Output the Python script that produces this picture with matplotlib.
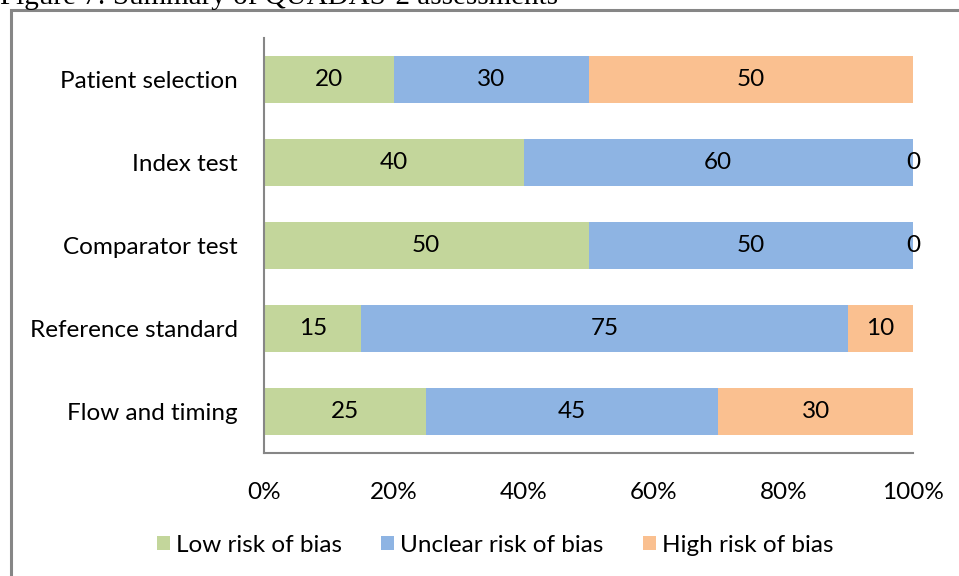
import numpy as np
import matplotlib
matplotlib.use('Agg')
import matplotlib.pyplot as plt
from matplotlib.patches import Rectangle

# QUADAS-2 요약 데이터
domains = ['Patient selection', 'Index test', 'Comparator test', 'Reference standard', 'Flow and timing']
low = [20, 40, 50, 15, 25]
unclear = [30, 60, 50, 75, 45]
high = [50, 0, 0, 10, 30]
series_names = ['Low risk of bias', 'Unclear risk of bias', 'High risk of bias']
colors = ['#C3D69B', '#8EB4E3', '#FAC090']
xticks = [0, 20, 40, 60, 80, 100]

plt.rcParams['font.family'] = ['Lato', 'DejaVu Sans']
fs = 17.5

fig = plt.figure(figsize=(9.59, 5.76), dpi=100)
ax = fig.add_axes([264/959, 1-453/576, (913-264)/959, (453-38)/576])

y = np.arange(len(domains))
left = np.zeros(len(domains))
for vals, name, c in zip([low, unclear, high], series_names, colors):
    vals = np.array(vals, dtype=float)
    bars = ax.barh(y, vals, left=left, height=0.565, color=c, label=name)
    for yi, l, v in zip(y, left, vals):
        ax.text(l + v/2, yi, str(int(v)), ha='center', va='center', fontsize=fs, color='black')
    left = left + vals

ax.set_ylim(len(domains)-0.5, -0.5)
ax.set_xlim(0, 100)
ax.set_yticks(y)
ax.set_yticklabels(domains, fontsize=fs)
ax.set_xticks(xticks)
ax.set_xticklabels([f'{t}%' for t in xticks], fontsize=fs)
ax.tick_params(length=0)
ax.tick_params(axis='y', pad=19)
ax.tick_params(axis='x', pad=21)
for s in ['top', 'right']:
    ax.spines[s].set_visible(False)
for s in ['left', 'bottom']:
    ax.spines[s].set_color('#868686')
    ax.spines[s].set_linewidth(1.5)

# 범례
fig.legend(loc='center', bbox_to_anchor=(495/959, 1-545/576), ncol=3, frameon=False,
           fontsize=fs, handlelength=0.55, handleheight=0.55, handletextpad=0.25, columnspacing=1.6)

# 바깥 테두리
frame = Rectangle((11/959, -0.1), 1.2, 1-10/576+0.1, transform=fig.transFigure,
                  fill=False, edgecolor='#868686', linewidth=2.2, clip_on=False)
fig.patches.append(frame)

# 잘린 캡션
fig.text(0, 1-4/576, 'Figure 7: Summary of QUADAS-2 assessments', fontsize=21,
         family='Liberation Serif', va='baseline', ha='left')

fig.savefig('out.png', dpi=100)
